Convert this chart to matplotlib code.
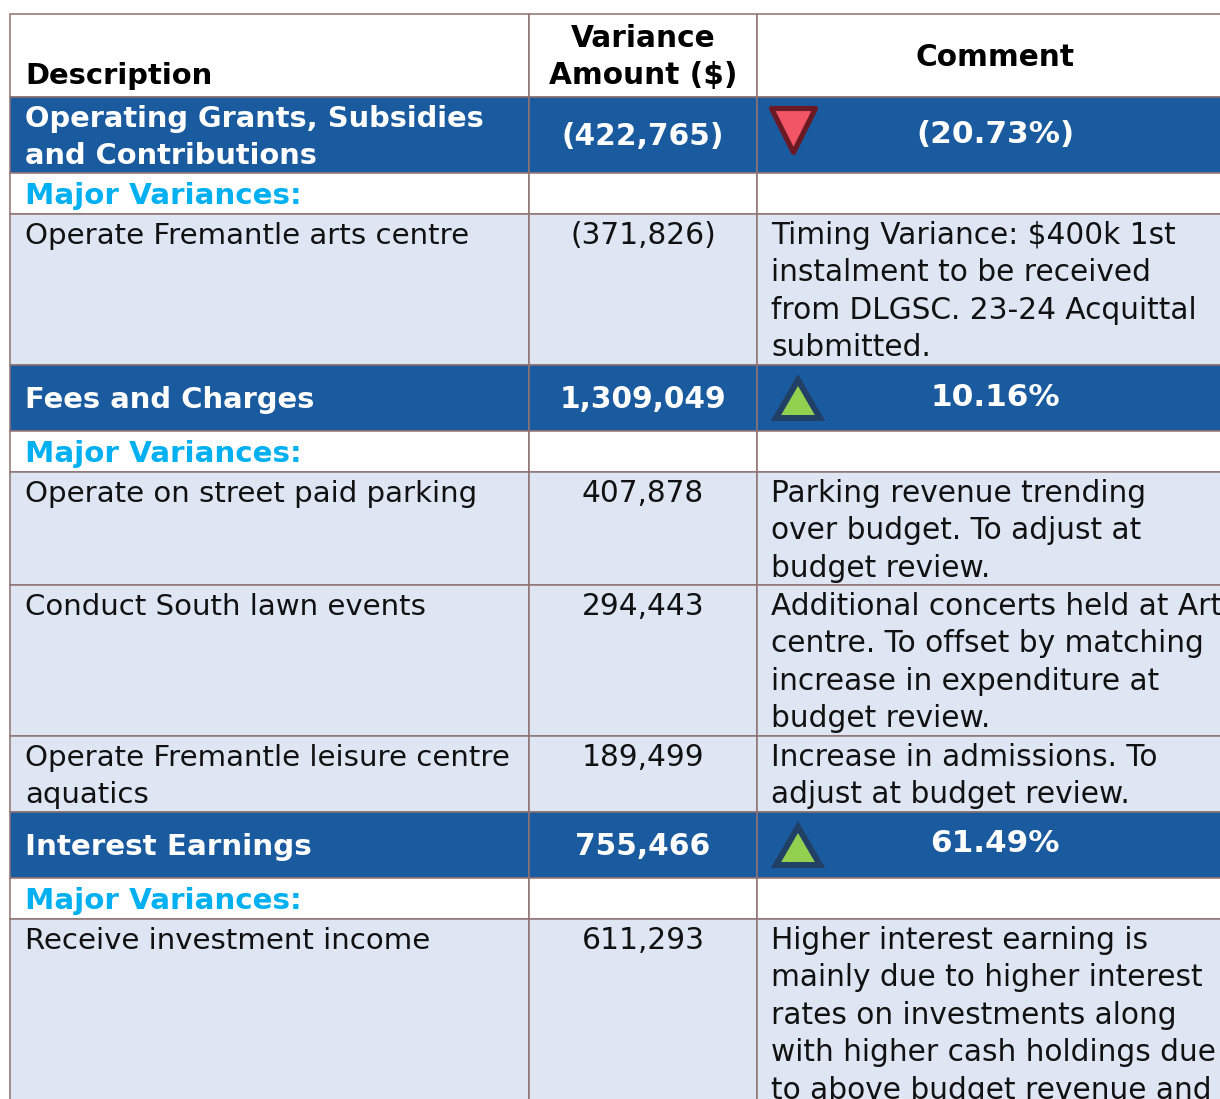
import matplotlib
matplotlib.use("Agg")
import matplotlib.pyplot as plt
from matplotlib.markers import MarkerStyle
from matplotlib.patches import Rectangle
from matplotlib.transforms import Affine2D

# table content
headers = ["Description", "Variance\nAmount ($)", "Comment"]

section_names = [
    "Operating Grants, Subsidies\nand Contributions",
    "Fees and Charges",
    "Interest Earnings",
]
section_amounts = ["(422,765)", "1,309,049", "755,466"]
section_pcts = ["(20.73%)", "10.16%", "61.49%"]
section_dirs = ["down", "up", "up"]

minor_label = "Major Variances:"

item_names = [
    ["Operate Fremantle arts centre"],
    ["Operate on street paid parking", "Conduct South lawn events",
     "Operate Fremantle leisure centre\naquatics"],
    ["Receive investment income"],
]
item_amounts = [
    ["(371,826)"],
    ["407,878", "294,443", "189,499"],
    ["611,293"],
]
item_comments = [
    ["Timing Variance: $400k 1st\ninstalment to be received\nfrom DLGSC. 23-24 Acquittal\nsubmitted."],
    ["Parking revenue trending\nover budget. To adjust at\nbudget review.",
     "Additional concerts held at Art\ncentre. To offset by matching\nincrease in expenditure at\nbudget review.",
     "Increase in admissions. To\nadjust at budget review."],
    ["Higher interest earning is\nmainly due to higher interest\nrates on investments along\nwith higher cash holdings due\nto above budget revenue and"],
]

# layout, in pixels of the 1220x1099 picture
col_edges = [10, 529, 757, 1240]
header_top = 14
header_bottom = 97
section_heights = [76, 66, 66]
minor_height = 41
item_heights = [[151], [113, 151, 76], [200]]
line_step = 37.4

BLUE = "#1a5a9e"
LIGHT = "#dee5f3"
CYAN = "#00b0f0"
GRID = "#8f7372"
FS = 21.3
FS_NAME = 21.1
FS_PCT = 22.4
section_fs = [20.8, 20.87, 21.2]

plt.rcParams["font.family"] = ["DejaVu Sans"]
fig = plt.figure(figsize=(12.2, 10.99), dpi=100)
ax = fig.add_axes([0, 0, 1, 1])
ax.set_xlim(0, 1220)
ax.set_ylim(1099, 0)
ax.axis("off")

desc_x = col_edges[0] + 15
amount_x = (col_edges[1] + col_edges[2]) / 2
comment_x = col_edges[2] + 14
pct_x = 995


def cell(x0, x1, y0, y1, color):
    ax.add_patch(Rectangle((x0, y0), x1 - x0, y1 - y0, facecolor=color,
                           edgecolor=GRID, linewidth=1.1, zorder=1))


def lines(x, y, txt, ha="left", fs=FS, **kw):
    # each line on its own baseline so the row spacing can be set exactly
    for i, part in enumerate(txt.split("\n")):
        ax.text(x, y + i * line_step, part, ha=ha, va="baseline", fontsize=fs, zorder=3, **kw)


def row(y0, y1, color):
    for c in range(3):
        cell(col_edges[c], col_edges[c + 1], y0, y1, color)


def triangle(x, y, direction):
    if direction == "down":
        style = MarkerStyle("v", joinstyle="round")
        ax.plot([x], [y], marker=style, ms=31, mfc="#f25565", mec="#6b1a24", mew=3.7, zorder=4, clip_on=False)
    else:
        style = MarkerStyle("^", joinstyle="miter", transform=Affine2D().scale(1, 0.86))
        ax.plot([x], [y], marker=style, ms=31, mfc="#92d14f", mec="#223f66", mew=4.3, zorder=4, clip_on=False)


# header row
row(header_top, header_bottom, "white")
ax.text(desc_x, 84, headers[0], fontsize=20.85, fontweight="bold", va="baseline", color="black", zorder=3)
lines(amount_x, 47, headers[1], ha="center", fontweight="bold", color="black")
ax.text(995, 66, headers[2], fontsize=FS, fontweight="bold", ha="center", va="baseline", color="black", zorder=3)

y = header_bottom
for s in range(len(section_names)):
    h = section_heights[s]
    row(y, y + h, BLUE)
    n_lines = section_names[s].count("\n") + 1
    if n_lines == 2:
        name_base = y + 30
    else:
        name_base = y + 43
    lines(desc_x, name_base, section_names[s], fs=section_fs[s], fontweight="bold", color="white")
    amount_base = y + 48 if n_lines == 2 else y + 43
    ax.text(amount_x, amount_base, section_amounts[s], ha="center", va="baseline", fontsize=FS,
            fontweight="bold", color="white", zorder=3)
    pct_base = y + 46 if n_lines == 2 else y + 40.5
    ax.text(pct_x, pct_base, section_pcts[s], ha="center", va="baseline", fontsize=FS_PCT,
            fontweight="bold", color="white", zorder=3)
    if section_dirs[s] == "down":
        triangle(793, y + 33, "down")
    else:
        triangle(798, y + 33.5, "up")
    y += h

    row(y, y + minor_height, "white")
    ax.text(desc_x, y + 31, minor_label, fontsize=21.15, fontweight="bold", color=CYAN, va="baseline", zorder=3)
    y += minor_height

    for i in range(len(item_names[s])):
        h = item_heights[s][i]
        row(y, y + h, LIGHT)
        base = y + 30
        lines(desc_x, base, item_names[s][i], fs=FS_NAME, color="#111111")
        ax.text(amount_x, base, item_amounts[s][i], ha="center", va="baseline", fontsize=FS, color="#111111", zorder=3)
        lines(comment_x, base, item_comments[s][i], color="#111111")
        y += h

fig.savefig("out.png", dpi=100)
plt.close(fig)
